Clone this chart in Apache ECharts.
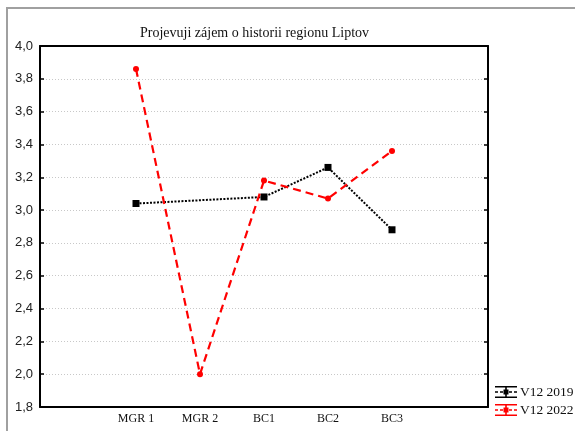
<!DOCTYPE html>
<html>
<head>
<meta charset="utf-8">
<script src="https://cdn.jsdelivr.net/npm/echarts@6/dist/echarts.min.js"></script>
<style>
html,body{margin:0;padding:0;background:#fff;}
#chart{width:575px;height:431px;}
</style>
</head>
<body>
<div id="chart"></div>
<script>
var categories = ['MGR 1', 'MGR 2', 'BC1', 'BC2', 'BC3'];
var v2019 = [3.04, null, 3.08, 3.26, 2.88];
var v2022 = [3.86, 2.00, 3.18, 3.07, 3.36];
var seriesNames = ['V12 2019', 'V12 2022'];
var titleText = 'Projevuji zájem o historii regionu Liptov';
var yMin = 1.8, yMax = 4.0, yStep = 0.2;

var axisCats = [''].concat(categories).concat(['']);
function pad(arr) { return [null].concat(arr).concat([null]); }

var legendIcon = 'path://M0,0H22V1.6H0Z M0,10.4H22V12H0Z M10.2,0H11.8V12H10.2Z M0,5.2H3V6.8H0Z M5,5.2H8V6.8H5Z M14,5.2H17V6.8H14Z M19,5.2H22V6.8H19Z M8.5,3.5H13.5V8.5H8.5Z';

var chart = echarts.init(document.getElementById('chart'));
chart.setOption({
  backgroundColor: '#ffffff',
  animation: false,
  title: {
    text: titleText,
    left: 135,
    top: 21,
    textStyle: { fontFamily: 'Liberation Serif', fontSize: 14, fontWeight: 'normal', color: '#111' }
  },
  legend: {
    orient: 'vertical',
    left: 490,
    top: 380,
    itemWidth: 22,
    itemHeight: 12,
    itemGap: 4,
    textStyle: { fontFamily: 'Liberation Serif', fontSize: 13.5, color: '#111', padding: [0,0,0,-2] },
    data: [
      { name: seriesNames[0], icon: legendIcon, itemStyle: { color: '#000' } },
      { name: seriesNames[1], icon: legendIcon, itemStyle: { color: '#ff0000' } }
    ]
  },
  graphic: [
    { type: 'line', shape: { x1: 7, y1: 8, x2: 7, y2: 431 }, style: { stroke: '#a0a0a0', lineWidth: 2 } },
    { type: 'line', shape: { x1: 6, y1: 8, x2: 575, y2: 8 }, style: { stroke: '#a0a0a0', lineWidth: 2 } }
  ],
  grid: { left: 40, right: 87, top: 46, bottom: 24, containLabel: false },
  xAxis: [
    {
      type: 'category',
      data: axisCats,
      boundaryGap: true,
      axisLine: { lineStyle: { color: '#000', width: 2 } },
      axisTick: { inside: true, alignWithLabel: true, length: 4, lineStyle: { color: '#000', width: 1.5 } },
      axisLabel: { fontFamily: 'Liberation Serif', fontSize: 12, color: '#111', margin: 6, interval: 0 },
      splitLine: { show: false }
    },
    {
      type: 'category',
      position: 'top',
      data: axisCats,
      axisLine: { lineStyle: { color: '#000', width: 2 } },
      axisTick: { show: false },
      axisLabel: { show: false }
    }
  ],
  yAxis: [
    {
      type: 'value',
      min: yMin,
      max: yMax,
      interval: yStep,
      axisLine: { show: true, lineStyle: { color: '#000', width: 2 } },
      axisTick: { show: true, inside: true, length: 4, lineStyle: { color: '#000', width: 1.5 } },
      axisLabel: {
        fontFamily: 'Liberation Sans', fontSize: 13, color: '#222', margin: 7,
        formatter: function (v) { return v.toFixed(1).replace('.', ','); }
      },
      splitLine: { show: true, lineStyle: { color: '#c8c8c8', type: [1, 2], width: 1 } }
    },
    {
      type: 'value',
      position: 'right',
      min: yMin,
      max: yMax,
      interval: yStep,
      axisLine: { show: true, lineStyle: { color: '#000', width: 2 } },
      axisTick: { show: true, inside: true, length: 4, lineStyle: { color: '#000', width: 1.5 } },
      axisLabel: { show: false },
      splitLine: { show: false }
    }
  ],
  series: [
    {
      name: seriesNames[0],
      type: 'line',
      data: pad(v2019),
      connectNulls: true,
      symbol: 'rect',
      symbolSize: 7,
      itemStyle: { color: '#000' },
      lineStyle: { color: '#000', width: 2, type: [2, 1.5] },
      z: 3
    },
    {
      name: seriesNames[1],
      type: 'line',
      data: pad(v2022),
      symbol: 'circle',
      symbolSize: 6,
      itemStyle: { color: '#ff0000' },
      lineStyle: { color: '#ff0000', width: 2.2, type: [8, 5] },
      z: 4
    }
  ]
});
</script>
</body>
</html>
